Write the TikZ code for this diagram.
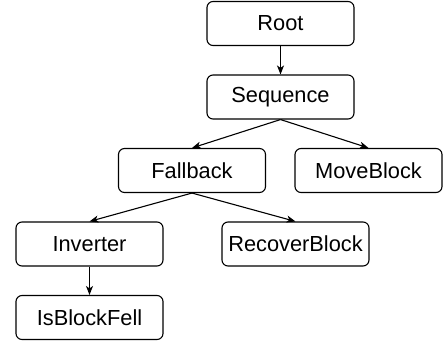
\documentclass[tikz,border=0pt]{standalone}
\usepackage{fontspec}
\setsansfont{Liberation Sans}
\usetikzlibrary{arrows.meta}

\begin{document}
\begin{tikzpicture}[>={Stealth[length=9pt,width=7pt,inset=2.5pt]},auto,node distance=73.5pt,line width=1.1pt,
                    tree node/.style={rectangle,draw,rounded corners=6pt,minimum width=147pt,
                      minimum height=44pt,font=\sffamily\fontsize{21.8}{26}\selectfont}]
  \useasboundingbox (0,0) rectangle (443pt,-345pt);
  \node[tree node] (root) at (280.5pt,-23.5pt) {Root};
  \node[tree node] (seq) [below of=root] {Sequence};
  \node[tree node] (fallback) [below of=seq,xshift=-88.5pt] {Fallback};
  \node[tree node] (move) [below of=seq,xshift=88pt] {MoveBlock};
  \node[tree node] (inv) [below of=fallback,xshift=-102.5pt] {Inverter};
  \node[tree node] (recover) [below of=fallback,xshift=103.5pt] {RecoverBlock};
  \node[tree node] (fell) [below of=inv] {IsBlockFell};
  \path[->]
    (root) edge (seq)
    (seq.south) edge (fallback.north)
        edge (move.north)
    (fallback.south) edge (inv.north)
        edge (recover.north)
    (inv) edge (fell);
\end{tikzpicture}
\end{document}
